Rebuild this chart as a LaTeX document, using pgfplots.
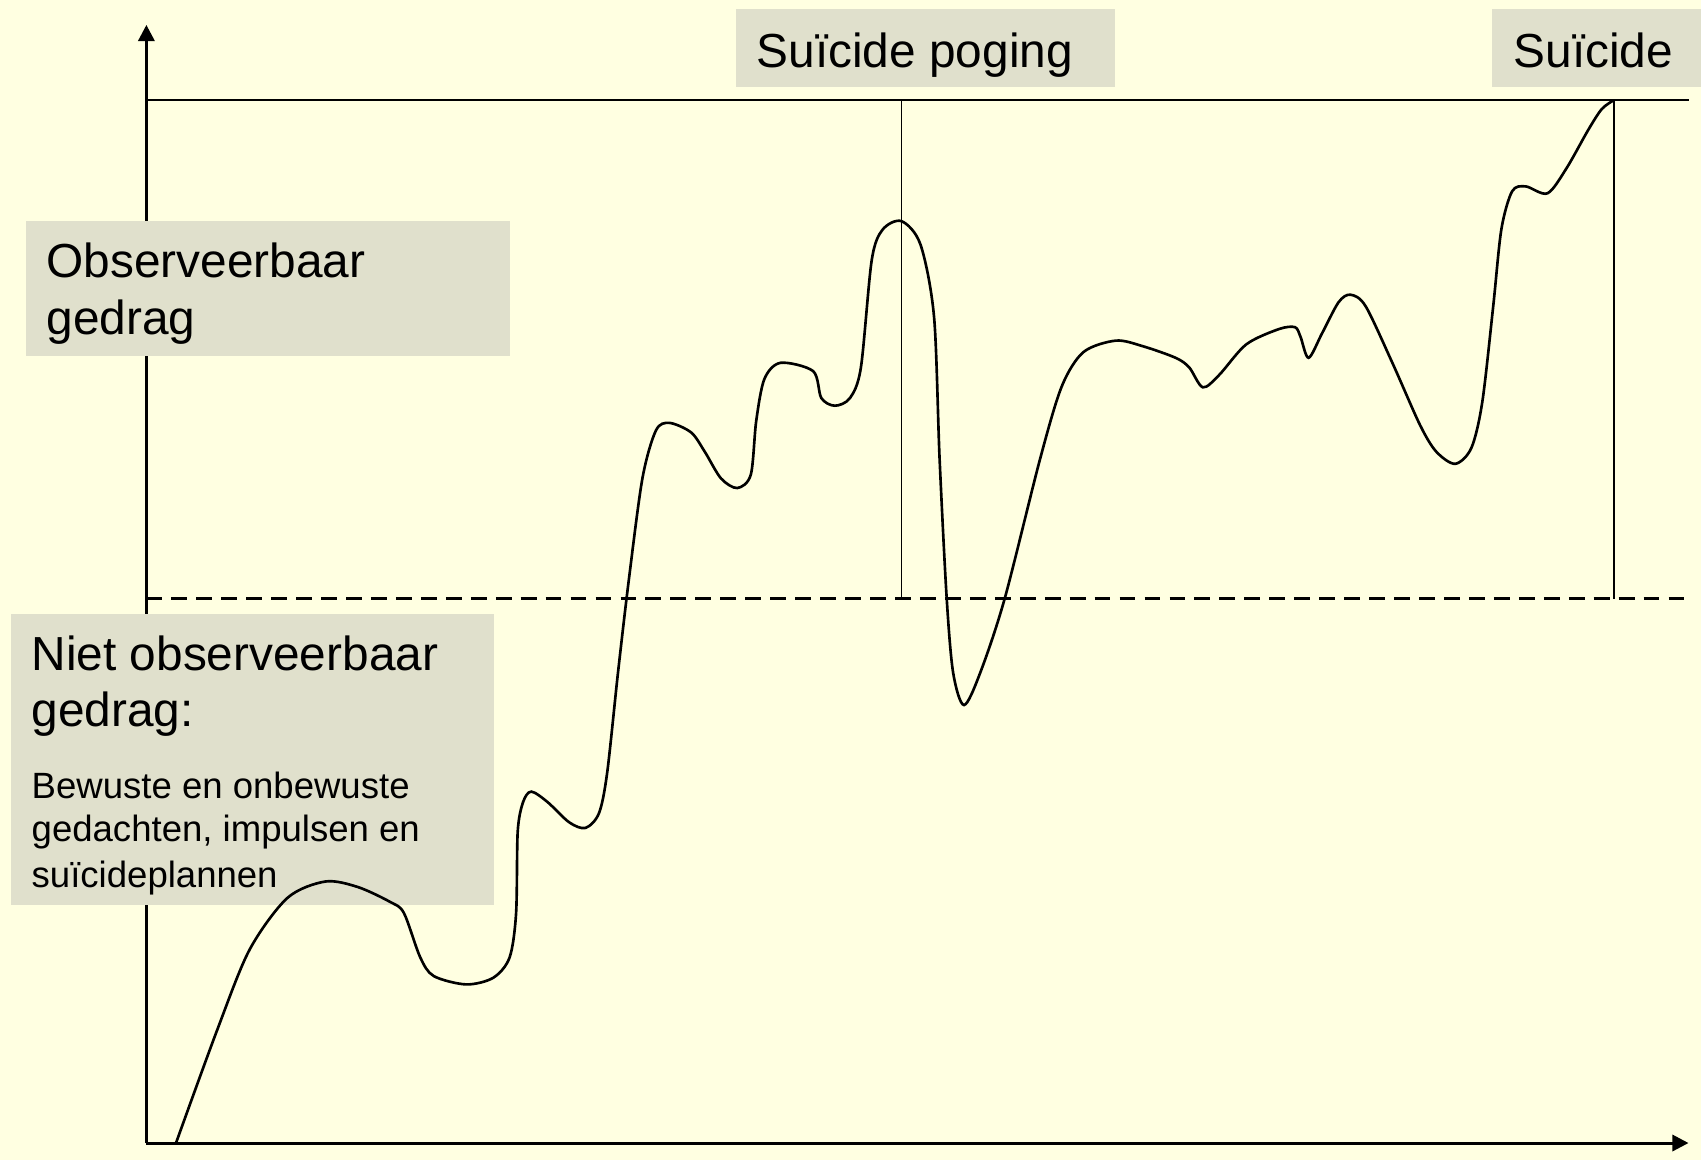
\documentclass[border=0pt]{standalone}
\usepackage{pgfplots}
\pgfplotsset{compat=1.18}
\usetikzlibrary{arrows.meta}
\usepackage{fontspec}
\setmainfont{Liberation Sans}
\definecolor{bg}{RGB}{255,255,225}
\definecolor{boxc}{RGB}{224,224,204}

% the curve, in pixel coordinates of the slide (y down)
\pgfplotstableread{
x y
176.0 1143.0
216.8 1031.0
249.4 950.0
287.3 898.0
325.3 881.5
357.8 887.0
390.3 902.0
403.9 913.0
420.1 957.0
433.7 976.0
466.2 984.4
493.3 977.7
509.6 957.4
516.1 913.0
517.7 831.6
523.1 802.0
531.3 791.6
547.5 802.0
569.2 822.3
585.5 827.9
599.0 813.1
607.2 772.4
618.0 672.5
628.8 580.0
642.4 478.4
655.9 430.5
669.5 422.9
691.2 432.5
704.7 451.6
721.0 478.4
737.3 488.0
750.8 474.6
756.2 421.0
764.4 378.9
780.6 362.8
813.2 371.2
821.3 398.0
834.8 405.7
850.0 398.0
860.9 367.4
871.7 260.2
882.6 229.6
901.6 221.2
920.6 244.9
934.1 317.6
939.6 459.2
946.6 597.0
953.1 672.5
964.0 705.0
980.3 672.5
1004.7 598.5
1040.0 459.2
1061.7 386.5
1083.4 352.1
1115.9 340.6
1143.1 346.3
1175.6 357.8
1189.2 367.4
1202.8 387.3
1219.1 375.0
1246.2 344.4
1278.8 329.1
1295.0 327.2
1300.5 336.8
1308.6 357.8
1322.2 333.0
1338.5 302.3
1350.4 294.7
1365.6 306.2
1392.7 363.6
1419.9 424.8
1436.2 451.6
1455.2 463.8
1471.4 447.8
1482.3 401.8
1493.2 306.2
1501.3 229.6
1512.1 191.3
1525.7 186.4
1547.4 193.3
1566.4 168.4
1588.1 130.1
1601.7 109.1
1613.6 100.3
}\curvedata

\begin{document}
\begin{tikzpicture}[
  big/.style={font=\fontsize{13.6}{16}\selectfont, inner sep=0pt, anchor=base west},
  small/.style={font=\fontsize{10.4}{12.5}\selectfont, inner sep=0pt, anchor=base west},
]
\begin{axis}[
  scale only axis, width=17.01cm, height=11.6cm,
  xmin=0, xmax=1701, ymin=0, ymax=1160, y dir=reverse,
  axis lines=none, xtick=\empty, ytick=\empty,
  axis background/.style={fill=bg},
  clip=false,
]
% axes
\addplot[black, line width=0.85pt, -{Triangle[length=4.6pt,width=4.6pt]}] coordinates {(146.4,1143) (146.4,24.9)};
\addplot[black, line width=0.85pt, -{Triangle[length=4.6pt,width=4.6pt]}] coordinates {(146.4,1143) (1688.5,1143)};
% threshold lines
\addplot[black, line width=0.6pt] coordinates {(146.4,100.3) (1688.5,100.3)};
\addplot[black, line width=0.7pt, dash pattern=on 4.5pt off 2.6pt] coordinates {(146.4,598.5) (1688.5,598.5)};
\addplot[black, line width=0.5pt] coordinates {(901.6,100.3) (901.6,598.5)};
\addplot[black, line width=0.5pt] coordinates {(1613.6,100.3) (1613.6,598.5)};

% label boxes
\fill[boxc] (axis cs:736,8.5) rectangle (axis cs:1115,86.5);
\fill[boxc] (axis cs:1492,8.5) rectangle (axis cs:1701,86.5);
\fill[boxc] (axis cs:26,221) rectangle (axis cs:509.5,356);
\fill[boxc] (axis cs:10.8,614) rectangle (axis cs:494.4,904.8);

\node[big] at (axis cs:756,67) {Suïcide poging};
\node[big] at (axis cs:1513,67) {Suïcide};
\node[big] at (axis cs:46,277.5) {Observeerbaar};
\node[big] at (axis cs:46,334.9) {gedrag};
\node[big] at (axis cs:31,670.6) {Niet observeerbaar};
\node[big] at (axis cs:31,726.1) {gedrag:};
\node[small] at (axis cs:31,798.3) {Bewuste en onbewuste};
\node[small] at (axis cs:31,841.9) {gedachten, impulsen en};
\node[small] at (axis cs:31,887) {suïcideplannen};

% the curve
\addplot[black, line width=0.75pt, smooth, tension=0.5] table[x=x, y=y] {\curvedata};
\end{axis}
\end{tikzpicture}
\end{document}
